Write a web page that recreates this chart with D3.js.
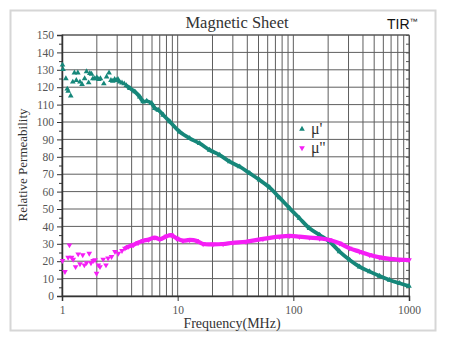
<!DOCTYPE html>
<html><head><meta charset="utf-8">
<script src="https://cdn.jsdelivr.net/npm/d3@7"></script>
<style>body{margin:0;background:#fff;}svg{display:block;}</style>
</head><body>
<svg id="c" width="449" height="341"></svg>
<script>
const title = "Magnetic Sheet";
const brand = "TIR";
const xLabel = "Frequency(MHz)";
const yLabel = "Relative Permeability";
const seriesNames = ["\u03bc'", "\u03bc''"];
const xTicks = [1, 10, 100, 1000];
const yTicks = [0,10,20,30,40,50,60,70,80,90,100,110,120,130,140,150];

// mu' scattered low-frequency points
const muPScatterF = [1.01,1.02,1.08,1.11,1.13,1.19,1.24,1.28,1.33,1.37,1.43,1.49,1.57,1.63,1.70,1.74,1.80,1.85,1.92,2.0,2.08,2.15,2.3,2.43,2.55,2.65,2.75,2.85,2.95,3.05,3.15,3.3,3.45];
const muPScatterV = [132.8,130.3,125,119,117.8,115,123,128.3,124,128.3,123,121.7,125,129,122.6,128,127.5,125,125,125.5,124.5,125,122,126,128.3,124,123.5,124.5,124,124.5,123,122.5,122];
// mu' dense curve
const muPCurveF = [3.6,3.86,4.27,4.7,5.03,5.4,5.95,6.35,6.8,7.5,8.55,10.4,12.7,15.5,18.9,23.1,28.2,34.4,42,51,62.5,76,93,113,138,169,206,251,307,374,457,557,680,830,1000];
const muPCurveV = [121,119.4,117.4,114.5,111.7,112,110.7,107.9,106.9,104,100.2,94.4,90.6,87.7,83.9,81,77.2,74.3,70.5,66.7,62.3,56.5,50.4,44.7,38.9,35,31.2,25.5,20.7,16.8,14,11.5,9.2,7.3,5.7];
// mu'' scattered low-frequency points
const muPPScatterF = [1.01,1.06,1.13,1.16,1.21,1.25,1.31,1.38,1.43,1.51,1.56,1.63,1.72,1.78,1.86,1.93,1.99,2.06,2.13,2.27,2.4,2.5,2.68,2.87,3.07,3.3];
const muPPScatterV = [20.3,14,22.2,29.3,22.2,21,16.8,24.1,18.4,23.6,17.8,19.1,24.5,19,20.3,20.7,13,17.8,16.8,21.1,17.8,21.7,22.6,25.5,24.5,26];
// mu'' dense curve
const muPPCurveF = [3.5,3.75,4.13,4.55,5.03,5.6,6.35,7,8,8.8,9.8,11.1,12.7,14.5,16.6,20.2,24.7,30,39,54.6,76,93,113,138,169,206,251,307,374,457,557,680,830,1000];
const muPPCurveV = [27.4,28.4,29.3,30.6,31.8,32.4,33.6,32.6,34.3,35,33.1,31.8,32.2,31.8,29.9,29.7,29.9,30.6,31.2,32.8,34.1,34.5,34.1,33.6,33.1,32.2,30.3,27.4,25.5,23.6,22.2,21.3,20.9,20.7];

const colors = ["#16877a", "#f51ef5"];
const serif = "'Liberation Serif', 'Times New Roman', serif";

const svg = d3.select("#c");
const L = 62, R = 409, T = 35, B = 296;
const x = d3.scaleLog().domain([1, 1000]).range([L, R]);
const y = d3.scaleLinear().domain([0, 150]).range([B, T]);

// frame
svg.append("rect").attr("x", 10.5).attr("y", 10.5).attr("width", 425).attr("height", 320)
  .attr("fill", "#fff").attr("stroke", "#d6d6d6").attr("stroke-width", 2);

// grid
const minor = [];
for (let d = 1; d < 1000; d *= 10) for (let k = 2; k <= 9; k++) minor.push(d * k);
minor.push(10, 100);
const g = svg.append("g");
g.selectAll("line.v").data(minor).join("line")
  .attr("x1", d => x(d)).attr("x2", d => x(d)).attr("y1", T).attr("y2", B)
  .attr("stroke", "#5e5e5e").attr("stroke-width", 1);
g.selectAll("line.h").data(yTicks.slice(1)).join("line")
  .attr("x1", L).attr("x2", R).attr("y1", d => y(d)).attr("y2", d => y(d))
  .attr("stroke", "#5e5e5e").attr("stroke-width", 1);
svg.append("rect").attr("x", L).attr("y", T).attr("width", R - L).attr("height", B - T)
  .attr("fill", "none").attr("stroke", "#555").attr("stroke-width", 1);

// axes
const yAxis = d3.axisLeft(y).tickValues(yTicks).tickSize(5).tickPadding(3);
const ya = svg.append("g").attr("transform", `translate(${L},0)`).call(yAxis).attr("font-family", serif);
ya.select(".domain").attr("stroke", "#333").attr("stroke-width", 1.5);
ya.selectAll(".tick line").attr("stroke", "#333");
ya.selectAll("text").attr("font-family", serif).attr("font-size", 11.5).attr("fill", "#555");
const yMinor = d3.range(5, 150, 10);
svg.append("g").attr("transform", `translate(${L},0)`).call(d3.axisLeft(y).tickValues(yMinor).tickSize(3).tickFormat(""))
  .call(s => { s.select(".domain").remove(); s.selectAll("line").attr("stroke", "#333"); });
svg.append("g").attr("transform", `translate(${R},0)`).call(d3.axisLeft(y).tickValues(yTicks.concat(yMinor)).tickSize(3).tickFormat(""))
  .call(s => { s.select(".domain").attr("stroke", "#555"); s.selectAll("line").attr("stroke", "#555"); });

const xAxis = d3.axisBottom(x).tickValues(xTicks).tickFormat(d3.format("d")).tickSize(5).tickPadding(5);
const xa = svg.append("g").attr("transform", `translate(0,${B})`).call(xAxis).attr("font-family", serif);
xa.select(".domain").attr("stroke", "#333").attr("stroke-width", 1.5);
xa.selectAll(".tick line").attr("stroke", "#333");
xa.selectAll("text").attr("font-family", serif).attr("font-size", 11.5).attr("fill", "#555");

// series
const tri = d3.symbol().type(d3.symbolTriangle).size(14);
function drawSeries(fs, vs, cf, cv, color, down, w) {
  const pts = fs.map((f, i) => [f, vs[i]]);
  const cpts = cf.map((f, i) => [f, cv[i]]);
  const line = d3.line().x(d => x(d[0])).y(d => y(d[1])).curve(d3.curveCatmullRom);
  svg.append("path").datum(cpts).attr("d", line).attr("fill", "none")
    .attr("stroke", color).attr("stroke-width", w).attr("stroke-linejoin", "round");
  svg.append("g").selectAll("path").data(pts.concat(cpts)).join("path")
    .attr("d", tri).attr("fill", color)
    .attr("transform", d => `translate(${x(d[0])},${y(d[1])})${down ? " rotate(180)" : ""}`);
}
drawSeries(muPScatterF, muPScatterV, muPCurveF, muPCurveV, colors[0], false, 3.8);
drawSeries(muPPScatterF, muPPScatterV, muPPCurveF, muPPCurveV, colors[1], true, 4.2);

// legend
const leg = svg.append("g");
seriesNames.forEach((n, i) => {
  const yy = 129 + i * 19;
  leg.append("path").attr("d", tri).attr("fill", colors[i])
    .attr("transform", `translate(302,${yy})${i ? " rotate(180)" : ""}`);
  leg.append("text").attr("x", 311).attr("y", yy + 5).text(n)
    .attr("font-family", serif).attr("font-size", 16).attr("fill", "#333");
});

// titles
svg.append("text").attr("x", 237).attr("y", 28).attr("text-anchor", "middle").text(title)
  .attr("font-family", serif).attr("font-size", 16.5).attr("fill", "#333");
const bt = svg.append("text").attr("x", 387).attr("y", 29)
  .attr("font-family", "'Liberation Sans', Arial, sans-serif").attr("font-size", 14).attr("fill", "#111");
bt.append("tspan").text(brand);
bt.append("tspan").text("\u2122").attr("font-size", 8).attr("dy", -5);
svg.append("text").attr("x", 232).attr("y", 328).attr("text-anchor", "middle").text(xLabel)
  .attr("font-family", serif).attr("font-size", 14).attr("fill", "#333");
svg.append("text").attr("transform", "translate(27,165) rotate(-90)").attr("text-anchor", "middle").text(yLabel)
  .attr("font-family", serif).attr("font-size", 13).attr("fill", "#333");
</script>
</body></html>
